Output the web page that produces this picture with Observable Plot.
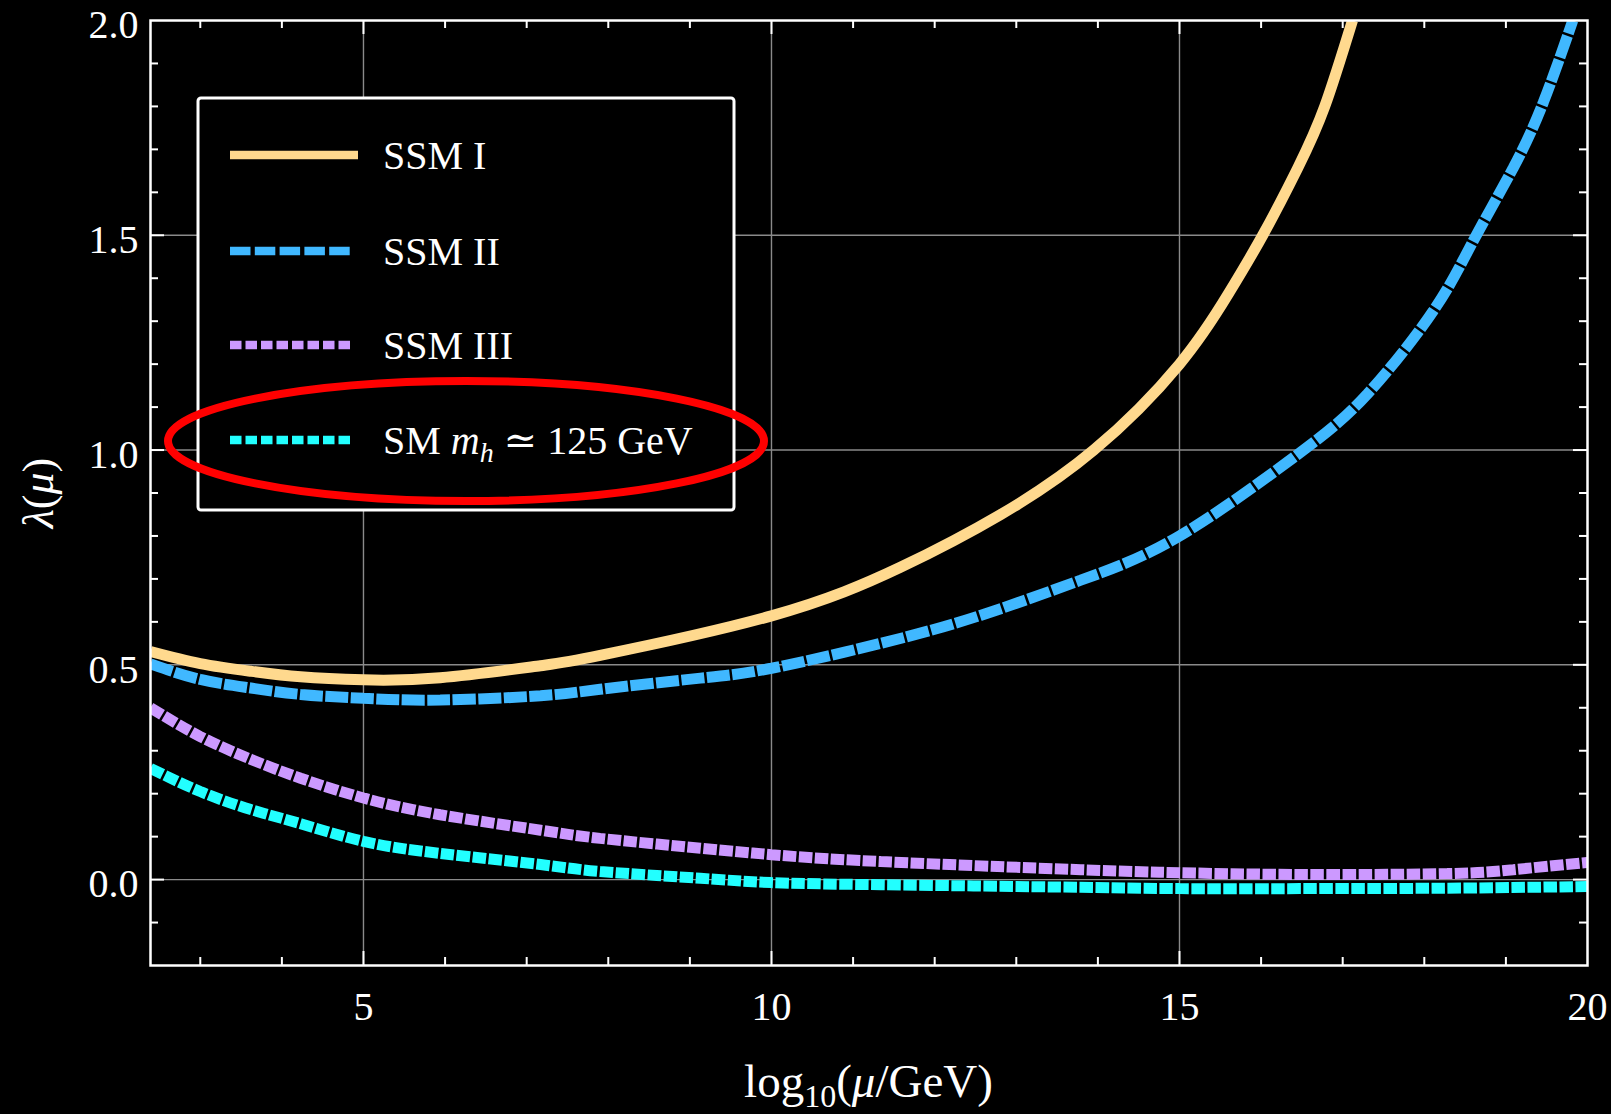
<!DOCTYPE html>
<html><head><meta charset="utf-8">
<script src="https://cdn.jsdelivr.net/npm/d3@7"></script>
<script src="https://cdn.jsdelivr.net/npm/@observablehq/plot@0.6"></script>
<style>html,body{margin:0;padding:0;background:#000;overflow:hidden}</style>
</head><body><div id="chart"></div>
<script>
// ---- data: [log10(mu/GeV), lambda(mu)] ----
const ssmI = [[2.39,0.531],[3.0,0.503],[3.62,0.485],[4.23,0.472],[5.0,0.465],[5.94,0.470],[7.17,0.498],[7.9,0.522],[10.0,0.614],[11.58,0.727],[12.81,0.85],[13.95,1.0],[15.0,1.2],[15.6,1.364],[16.02,1.5],[16.45,1.657],[16.78,1.8],[17.12,2.0]];
const ssmII = [[2.39,0.502],[3.0,0.466],[3.62,0.446],[4.23,0.431],[5.0,0.422],[5.94,0.418],[7.17,0.428],[7.9,0.443],[9.13,0.469],[10.0,0.492],[11.34,0.55],[12.56,0.615],[13.79,0.697],[15.0,0.8],[16.45,0.99],[17.3,1.13],[18.11,1.324],[18.6,1.487],[19.09,1.657],[19.46,1.81],[19.82,2.0]];
const ssmIII = [[2.39,0.400],[3.0,0.333],[3.62,0.28],[4.23,0.236],[5.0,0.19],[5.94,0.151],[7.17,0.115],[7.9,0.096],[9.13,0.073],[10.0,0.058],[11.34,0.042],[13.79,0.023],[15.0,0.016],[16.48,0.012],[18.28,0.014],[19.09,0.023],[20.0,0.04]];
const smHiggs = [[2.39,0.259],[3.0,0.205],[3.62,0.163],[4.23,0.13],[5.0,0.089],[5.94,0.061],[7.17,0.035],[7.9,0.019],[9.13,0.003],[10.0,-0.007],[11.34,-0.012],[13.79,-0.018],[15.0,-0.021],[16.48,-0.021],[18.28,-0.02],[20.0,-0.016]];

const seriesNames = ["SSM I", "SSM II", "SSM III", "SM"];
const seriesColors = ["#FFD98E", "#40B8FF", "#CC99FF", "#22FFFF"];

const xMajorTicks = [5, 10, 15, 20];
const xTickLabels = ["5", "10", "15", "20"];
const yMajorTicks = [0, 0.5, 1.0, 1.5, 2.0];
const yTickLabels = ["0.0", "0.5", "1.0", "1.5", "2.0"];
const xMinorTicks = [3, 4, 6, 7, 8, 9, 11, 12, 13, 14, 16, 17, 18, 19];
const yMinorTicks = [-0.1, 0.1, 0.2, 0.3, 0.4, 0.6, 0.7, 0.8, 0.9, 1.1, 1.2, 1.3, 1.4, 1.6, 1.7, 1.8, 1.9];
const xGrid = [5, 10, 15];
const yGrid = [0, 0.5, 1.0, 1.5];

// ---- layout ----
const W = 1611, H = 1114;
const mL = 150, mR = 24, mT = 20, mB = 149;
const xDomain = [2.39, 20], yDomain = [-0.2, 2.0];
const pxX = (W - mL - mR) / (xDomain[1] - xDomain[0]);
const pxY = (H - mT - mB) / (yDomain[1] - yDomain[0]);
const FONT = "'Liberation Serif','DejaVu Serif',serif";

const toRows = (arr, name) => arr.map(([x, y]) => ({x, y, name}));
const rows = [toRows(ssmI, seriesNames[0]), toRows(ssmII, seriesNames[1]), toRows(ssmIII, seriesNames[2]), toRows(smHiggs, seriesNames[3])];

const majLen = 14, minLen = 8;
const tickStyle = {stroke: "white", strokeWidth: 2};
const xTickMajor = xMajorTicks.filter(d => d < xDomain[1]);
const yTickMajor = yMajorTicks.filter(d => d < yDomain[1]);
const plotDash = [null, "23,2.5", "13.5,2.5", "13.5,2.5"];
const lineOpts = (i) => ({x: "x", y: "y", stroke: seriesColors[i], strokeWidth: 11, strokeDasharray: plotDash[i],
  strokeLinecap: "butt", strokeLinejoin: "miter", curve: "natural", clip: true});

const svg = Plot.plot({
  width: W, height: H,
  marginLeft: mL, marginRight: mR, marginTop: mT, marginBottom: mB,
  style: {background: "black", color: "white", fontFamily: FONT, overflow: "visible"},
  x: {domain: xDomain, axis: null},
  y: {domain: yDomain, axis: null},
  marks: [
    Plot.ruleX(xGrid, {x: d => d, stroke: "#8a8a8a", strokeWidth: 1.4}),
    Plot.ruleY(yGrid, {y: d => d, stroke: "#8a8a8a", strokeWidth: 1.4}),
    // inward ticks: bottom, top, left, right
    Plot.ruleX(xTickMajor, {x: d => d, y1: yDomain[0], y2: yDomain[0] + majLen / pxY, ...tickStyle}),
    Plot.ruleX(xMinorTicks, {x: d => d, y1: yDomain[0], y2: yDomain[0] + minLen / pxY, ...tickStyle}),
    Plot.ruleX(xTickMajor, {x: d => d, y1: yDomain[1], y2: yDomain[1] - majLen / pxY, ...tickStyle}),
    Plot.ruleX(xMinorTicks, {x: d => d, y1: yDomain[1], y2: yDomain[1] - minLen / pxY, ...tickStyle}),
    Plot.ruleY(yTickMajor, {y: d => d, x1: xDomain[0], x2: xDomain[0] + majLen / pxX, ...tickStyle}),
    Plot.ruleY(yMinorTicks, {y: d => d, x1: xDomain[0], x2: xDomain[0] + minLen / pxX, ...tickStyle}),
    Plot.ruleY(yTickMajor, {y: d => d, x1: xDomain[1], x2: xDomain[1] - majLen / pxX, ...tickStyle}),
    Plot.ruleY(yMinorTicks, {y: d => d, x1: xDomain[1], x2: xDomain[1] - minLen / pxX, ...tickStyle}),
    // curves
    Plot.line(rows[0], lineOpts(0)),
    Plot.line(rows[1], lineOpts(1)),
    Plot.line(rows[2], lineOpts(2)),
    Plot.line(rows[3], lineOpts(3)),
    Plot.frame({stroke: "white", strokeWidth: 2.5}),
    // tick labels
    Plot.text(xMajorTicks, {x: d => d, text: (d, i) => xTickLabels[i], frameAnchor: "bottom", dy: 54, fontSize: 40, fill: "white", fontFamily: FONT}),
    Plot.text(yMajorTicks, {y: d => d, text: (d, i) => yTickLabels[i], frameAnchor: "left", dx: -12, dy: 5, textAnchor: "end", fontSize: 40, fill: "white", fontFamily: FONT})
  ]
});
document.getElementById("chart").appendChild(svg);

// ---- axis titles, legend, annotation ----
const s = d3.select(svg);
const xl = s.append("text").attr("x", (mL + W - mR) / 2).attr("y", 1097).attr("text-anchor", "middle")
  .attr("fill", "white").style("font-family", FONT).style("font-size", "47px");
xl.append("tspan").text("log");
xl.append("tspan").attr("dy", 10).style("font-size", "32px").text("10");
xl.append("tspan").attr("dy", -10).text("(");
xl.append("tspan").style("font-style", "italic").text("μ");
xl.append("tspan").text("/GeV)");

const yl = s.append("text").attr("transform", "translate(53,493) rotate(-90)").attr("text-anchor", "middle")
  .attr("fill", "white").style("font-family", FONT).style("font-size", "44px");
yl.append("tspan").style("font-style", "italic").text("λ");
yl.append("tspan").text("(");
yl.append("tspan").style("font-style", "italic").text("μ");
yl.append("tspan").text(")");

const lg = s.append("g");
lg.append("rect").attr("x", 198).attr("y", 98).attr("width", 536).attr("height", 412).attr("rx", 3)
  .attr("fill", "black").attr("stroke", "white").attr("stroke-width", 3);
const legendDash = [null, "20.5,4.3", "11.5,4", "11.5,4"];
const legendEnd = [358, 353, 353, 353];
const rowY = [155, 251, 345, 440];
seriesNames.forEach((n, i) => {
  lg.append("line").attr("x1", 230).attr("x2", legendEnd[i]).attr("y1", rowY[i]).attr("y2", rowY[i])
    .attr("stroke", seriesColors[i]).attr("stroke-width", 8.5).attr("stroke-dasharray", legendDash[i])
    .attr("stroke-linecap", "butt");
  const t = lg.append("text").attr("x", 383).attr("y", rowY[i] + 14).attr("fill", "white")
    .attr("text-anchor", "start").style("font-family", FONT).style("font-size", "40px");
  if (i < 3) t.text(n);
  else {
    t.append("tspan").text("SM ");
    t.append("tspan").style("font-style", "italic").text("m");
    t.append("tspan").attr("dy", 8).style("font-style", "italic").style("font-size", "28px").text("h");
    t.append("tspan").attr("dy", -8).text(" ≃ 125 GeV");
  }
});

s.append("ellipse").attr("cx", 466).attr("cy", 441).attr("rx", 298).attr("ry", 60)
  .attr("fill", "none").attr("stroke", "#FF0000").attr("stroke-width", 8);
</script>
</body></html>
